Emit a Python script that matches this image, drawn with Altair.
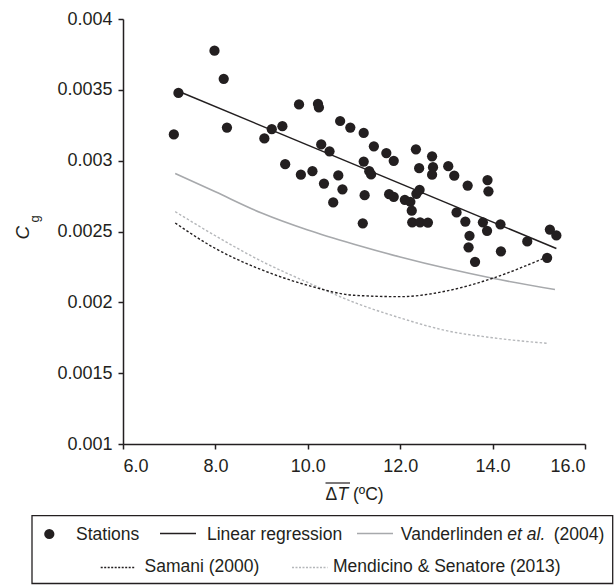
import altair as alt
import pandas as pd

# ---- data ----
st_x = [7.10, 7.20, 7.98, 8.18, 8.25, 9.06, 9.22, 9.45, 9.51, 9.81, 9.85, 10.10,
        10.22, 10.24, 10.29, 10.35, 10.47, 10.55, 10.66, 10.70, 10.75, 10.92, 11.19,
        11.21, 11.21, 11.23, 11.33, 11.37, 11.43, 11.70, 11.76, 11.86, 11.86, 12.10,
        12.22, 12.25, 12.26, 12.34, 12.35, 12.41, 12.42, 12.43, 12.60, 12.69, 12.71,
        12.69, 13.04, 13.17, 13.22, 13.41, 13.46, 13.50, 13.48, 13.62, 13.79, 13.88,
        13.89, 13.91, 14.17, 14.18, 14.75, 15.18, 15.24, 15.38]
st_y = [0.003185, 0.003478, 0.003776, 0.003578, 0.003234, 0.003157, 0.003222, 0.003243,
        0.002975, 0.003397, 0.002901, 0.002926, 0.003401, 0.003376, 0.003115, 0.002838,
        0.003066, 0.002705, 0.002896, 0.003280, 0.002798, 0.003234, 0.002558, 0.003196,
        0.002994, 0.002756, 0.002926, 0.002903, 0.003101, 0.003054, 0.002763, 0.002999,
        0.002745, 0.002724, 0.002710, 0.002647, 0.002565, 0.003080, 0.002766, 0.002947,
        0.002794, 0.002565, 0.002563, 0.003031, 0.002954, 0.002901, 0.002961, 0.002894,
        0.002635, 0.002570, 0.002824, 0.002470, 0.002388, 0.002286, 0.002565, 0.002505,
        0.002863, 0.002784, 0.002551, 0.002360, 0.002430, 0.002314, 0.002514, 0.002472]

reg_x = [7.20, 15.38]
reg_y = [0.00349, 0.00238]

vand_x = [7.13, 8.0, 9.0, 10.0, 11.0, 12.0, 13.0, 14.0, 15.35]
vand_y = [0.00291, 0.00278, 0.00263, 0.00251, 0.00241, 0.00232, 0.00224, 0.00217, 0.00209]

sam_x = [7.13, 8.0, 9.0, 10.0, 11.0, 12.0, 13.0, 14.0, 15.17]
sam_y = [0.00256, 0.00238, 0.00223, 0.00212, 0.00205, 0.00204, 0.00208, 0.00217, 0.00232]

mend_x = [7.13, 8.0, 9.0, 10.0, 11.0, 12.0, 13.0, 14.0, 15.2]
mend_y = [0.00264, 0.00247, 0.00229, 0.00214, 0.00200, 0.00189, 0.00180, 0.00175, 0.00171]

x_ticks = [6, 8, 10, 12, 14, 16]
y_ticks = [0.001, 0.0015, 0.002, 0.0025, 0.003, 0.0035, 0.004]

FONT = "Liberation Sans, Arial, Helvetica, sans-serif"
INK = "#231f20"
GRAY = "#a7a9ac"
LGRAY = "#b5b7ba"
FS_AX = 18
FS = 17.5

W, H = 462, 425
PADL, PADT = 123, 19

xs = alt.Scale(domain=[6, 16], nice=False, zero=False)
ys = alt.Scale(domain=[0.001, 0.004], nice=False, zero=False)

xaxis = alt.Axis(values=x_ticks, format=".1f", title=None, grid=False,
                 domainColor=INK, domainWidth=1.5, tickColor=INK, tickWidth=1.5,
                 tickSize=5, labelFont=FONT, labelFontSize=FS_AX, labelColor=INK,
                 labelPadding=8)
yaxis = alt.Axis(values=y_ticks, format=".2~g", title=None, grid=False,
                 domainColor=INK, domainWidth=1.5, tickColor=INK, tickWidth=1.5,
                 tickSize=5, labelFont=FONT, labelFontSize=FS_AX, labelColor=INK,
                 labelPadding=6)

st_df = pd.DataFrame({"x": st_x, "y": st_y})
points = alt.Chart(st_df).mark_circle(size=105, color=INK, opacity=1).encode(
    x=alt.X("x:Q", scale=xs, axis=xaxis),
    y=alt.Y("y:Q", scale=ys, axis=yaxis),
)


def curve(xv, yv, color, width, dash=None):
    df = pd.DataFrame({"x": xv, "y": yv})
    kw = dict(color=color, strokeWidth=width, interpolate="monotone")
    if dash:
        kw["strokeDash"] = dash
    return alt.Chart(df).mark_line(**kw).encode(
        x=alt.X("x:Q", scale=xs), y=alt.Y("y:Q", scale=ys))


vand = curve(vand_x, vand_y, GRAY, 1.6)
mend = curve(mend_x, mend_y, LGRAY, 1.4, [2.5, 2])
sam = curve(sam_x, sam_y, INK, 1.4, [2.5, 2])
reg = curve(reg_x, reg_y, INK, 1.5)

one = alt.InlineData(values=[{"k": 0}])


def txt(s, x, y, align="left", size=FS, italic=False, angle=0, color=INK):
    kw = dict(align=align, baseline="middle", font=FONT, fontSize=size, color=color)
    if italic:
        kw["fontStyle"] = "italic"
    if angle:
        kw["angle"] = angle
    return alt.Chart(one).mark_text(**kw).encode(
        x=alt.value(x - PADL), y=alt.value(y - PADT), text=alt.value(s))


def hline(x1, x2, y, color=INK, width=1.5, dash=None):
    kw = dict(color=color, strokeWidth=width)
    if dash:
        kw["strokeDash"] = dash
    return alt.Chart(one).mark_rule(**kw).encode(
        x=alt.value(x1 - PADL), x2=alt.value(x2 - PADL), y=alt.value(y - PADT))


# axis titles
titles = [
    txt("Δ", 325.5, 495),
    txt("T", 337.5, 495, italic=True),
    txt("(ºC)", 353, 495),
    hline(325.5, 350, 483, width=1.2),
    txt("C", 22.5, 232.6, align="center", size=19, italic=True, angle=270),
    txt("g", 35, 219, align="center", size=13, angle=270),
]

# legend
R1, R2 = 535, 566.5
box = alt.Chart(one).mark_rect(fillOpacity=0, stroke=INK, strokeWidth=1.3).encode(
    x=alt.value(32 - PADL), x2=alt.value(612.7 - PADL),
    y=alt.value(515.7 - PADT), y2=alt.value(583.5 - PADT))
legend_dot = alt.Chart(one).mark_circle(size=105, color=INK, opacity=1).encode(
    x=alt.value(49.3 - PADL), y=alt.value(R1 - 1 - PADT))
legend = [
    box, legend_dot,
    txt("Stations", 76, R1),
    hline(160, 196, R1 - 1.5),
    txt("Linear regression", 207, R1),
    hline(357, 393, R1 - 1.5, color=GRAY),
    txt("Vanderlinden", 400.8, R1),
    txt("et al.", 507.3, R1, italic=True),
    txt("(2004)", 604.3, R1, align="right"),
    hline(100.7, 135, R2 + 1, width=1.3, dash=[2, 1.5]),
    txt("Samani (2000)", 144.5, R2),
    hline(292, 327.5, R2 + 1, color=LGRAY, width=1.3, dash=[2, 1.5]),
    txt("Mendicino & Senatore (2013)", 333, R2),
]

chart = alt.layer(vand, mend, sam, reg, points, *titles, *legend).properties(
    width=W, height=H,
    autosize=alt.AutoSizeParams(type="none"),
    padding={"left": PADL, "top": PADT, "right": 614 - PADL - W, "bottom": 585 - PADT - H},
    background="white",
).configure_view(stroke=None)

chart.save("out.html", embed_options={"renderer": "svg", "actions": False})
